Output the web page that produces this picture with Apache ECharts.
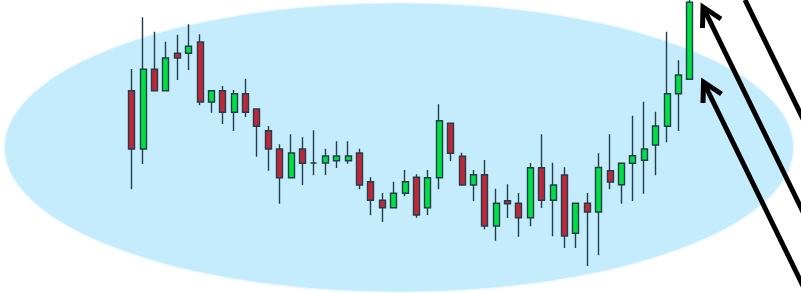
<!DOCTYPE html>
<html>
<head>
<meta charset="utf-8">
<script src="https://cdn.jsdelivr.net/npm/echarts@6/dist/echarts.min.js"></script>
<style>
  html, body { margin: 0; padding: 0; background: #fff; }
  #chart { width: 801px; height: 293px; }
</style>
</head>
<body>
<div id="chart"></div>
<script>
// 每根K线：[开盘, 收盘, 最低, 最高]
const candles = [
  [209.3, 151.0, 110.7, 231.0],
  [151.0, 230.7, 136.0, 282.7],
  [230.7, 209.3, 209.3, 268.3],
  [209.3, 242.0, 209.3, 258.3],
  [246.7, 242.0, 220.0, 265.3],
  [246.7, 253.7, 230.0, 275.7],
  [258.0, 198.0, 194.7, 265.7],
  [198.0, 209.3, 187.3, 209.3],
  [209.3, 187.7, 176.0, 214.0],
  [187.7, 206.3, 169.0, 210.0],
  [206.3, 187.7, 183.0, 221.3],
  [191.0, 173.7, 143.3, 191.0],
  [169.3, 151.0, 129.3, 174.0],
  [151.0, 122.3, 96.3, 155.7],
  [122.3, 147.0, 122.3, 165.7],
  [151.0, 136.7, 115.0, 162.7],
  [137.0, 137.0, 124.7, 169.7],
  [137.0, 144.0, 125.0, 151.3],
  [139.3, 144.0, 132.0, 158.7],
  [139.3, 144.0, 136.3, 158.7],
  [147.0, 115.0, 110.7, 151.3],
  [118.3, 99.7, 84.7, 122.7],
  [99.7, 92.3, 78.0, 107.0],
  [92.3, 106.7, 92.3, 118.3],
  [106.7, 118.3, 103.7, 130.0],
  [122.7, 85.0, 82.3, 125.7],
  [92.3, 122.3, 85.0, 130.0],
  [122.3, 179.3, 110.7, 195.7],
  [176.7, 146.7, 139.0, 176.7],
  [143.7, 115.0, 115.0, 147.3],
  [115.0, 125.3, 99.0, 130.0],
  [125.3, 74.0, 70.7, 140.0],
  [74.0, 96.7, 59.3, 111.3],
  [99.3, 96.3, 82.0, 115.7],
  [96.7, 82.3, 63.3, 107.0],
  [82.3, 132.3, 73.7, 137.0],
  [132.3, 99.7, 92.0, 165.7],
  [99.7, 115.0, 63.7, 137.3],
  [125.0, 64.0, 52.0, 132.7],
  [66.7, 96.7, 52.0, 96.7],
  [96.7, 88.0, 34.0, 107.0],
  [88.0, 132.5, 44.8, 146.8],
  [129.3, 118.0, 110.7, 165.7],
  [115.3, 136.7, 96.3, 136.7],
  [136.7, 144.3, 99.0, 184.3],
  [139.7, 151.0, 106.3, 198.3],
  [155.0, 174.0, 124.7, 188.3],
  [173.7, 206.3, 157.7, 268.3],
  [206.3, 225.0, 169.0, 239.7],
  [220.7, 297.7, 220.7, 300.0]
];
const days = candles.map((_, i) => "D" + (i + 1));

const chart = echarts.init(document.getElementById("chart"));

// 箭头：尖端 + 两翼 + 长杆
const arrow = (tx, ty) => [
  {
    type: "polyline",
    z: 10,
    shape: { points: [[tx + 18, ty + 12], [tx, ty], [tx - 0.5, ty + 21]] },
    style: { stroke: "#000", lineWidth: 5, fill: null, lineJoin: "miter" }
  },
  {
    type: "line",
    z: 10,
    shape: { x1: tx, y1: ty, x2: tx + 200, y2: ty + 410 },
    style: { stroke: "#000", lineWidth: 5 }
  }
];

chart.setOption({
  animation: false,
  grid: { left: 126, right: 105.5, top: 0, bottom: 0 },
  xAxis: {
    type: "category",
    data: days,
    show: false
  },
  yAxis: {
    type: "value",
    min: 7,
    max: 300,
    show: false
  },
  graphic: [
    {
      type: "ellipse",
      z: -10,
      silent: true,
      shape: { cx: 399, cy: 147.5, rx: 394, ry: 144 },
      style: { fill: "#c4ecfc", shadowBlur: 3, shadowColor: "#c4ecfc" }
    },
    ...arrow(703, 7),
    ...arrow(703.5, 82),
    {
      type: "line",
      z: 10,
      shape: { x1: 745, y1: 0, x2: 805, y2: 123 },
      style: { stroke: "#000", lineWidth: 5 }
    }
  ],
  series: [
    {
      type: "candlestick",
      data: candles,
      barWidth: 6.5,
      itemStyle: {
        color: "#00e040",
        color0: "#c0283a",
        borderColor: "#213e4c",
        borderColor0: "#213e4c",
        borderColorDoji: "#213e4c",
        borderWidth: 1.4
      }
    }
  ]
});
</script>
</body>
</html>
